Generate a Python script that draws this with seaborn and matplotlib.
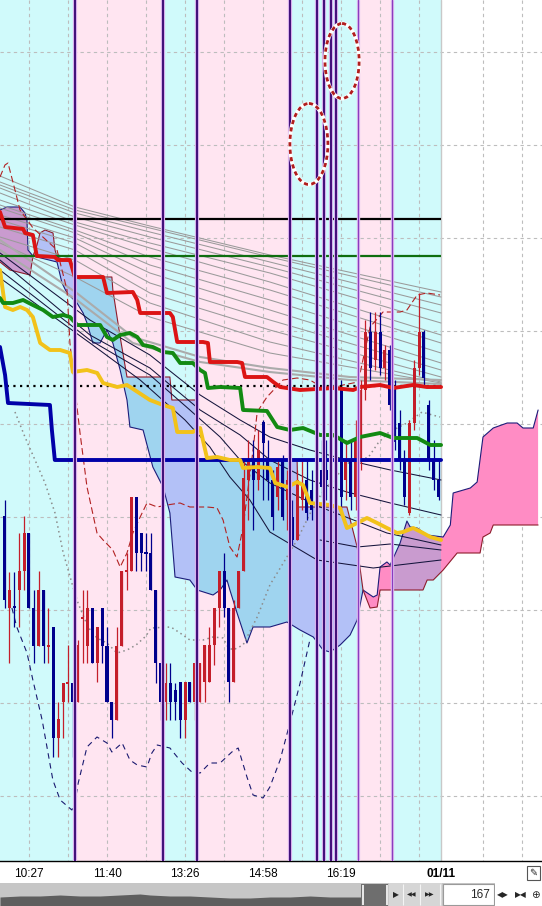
import numpy as np
import matplotlib
matplotlib.use("Agg")
import matplotlib.pyplot as plt
from matplotlib.patches import Rectangle, Ellipse
import seaborn as sns

sns.set_style("white")
plt.rcParams["font.family"] = ["Liberation Sans", "DejaVu Sans"]

# x = bar index, y = chart level counted downwards from the top of the pane

session_edges = [-1.0, 14.5, 32.5, 39.5, 58.5, 72.5, 79.5, 89.5, 111.0]
session_kinds = ["c", "p", "c", "p", "c", "p", "c", "w"]
signal_bars = [14.5, 32.5, 39.5, 58.5, 64.0, 65.5, 67.0, 68.0]
signal_bars_light = [72.5, 79.5]

tick_bars = [5, 13, 21, 29, 37, 45, 53, 61, 69, 77, 85, 98, 106]
label_bars = [5, 21, 37, 53, 69, 89.5]
label_text = ["10:27", "11:40", "13:26", "14:58", "16:19", "01/11"]
grid_levels = [52, 145, 238, 331, 424, 517, 610, 703, 796]

opens = [516, 608, 606, 590, 571, 533, 608, 646, 590, 647,
         627, 738, 702, 684, 683, 702, 619, 646, 608, 663,
         608, 646, 702, 720, 646, 572, 571, 497, 533, 552,
         553, 590, 663, 702, 683, 690, 682, 720, 682, 702,
         702, 682, 682, 645, 608, 571, 608, 682, 608, 571,
         480, 460, 480, 422, 460, 480, 497, 460, 500, 517,
         540, 500, 480, 490, 500, 470, 470, 460, 480, 390,
         480, 460, 497, 460, 390, 332, 360, 332, 368, 350,
         388, 423, 460, 513, 423, 368, 332, 405, 460, 480]
closes = [600, 590, 608, 571, 533, 608, 646, 590, 646, 645,
          738, 719, 683, 682, 702, 645, 617, 608, 663, 627,
          646, 702, 720, 646, 571, 570, 497, 553, 553, 554,
          590, 663, 702, 683, 702, 702, 720, 682, 702, 663,
          663, 645, 645, 608, 571, 608, 682, 608, 571, 478,
          460, 480, 450, 443, 480, 517, 467, 517, 480, 540,
          480, 485, 513, 510, 470, 487, 480, 480, 368, 497,
          460, 497, 440, 390, 332, 368, 332, 368, 350, 405,
          442, 460, 497, 423, 368, 332, 378, 460, 480, 497]
highs = [500, 572, 572, 533, 516, 533, 590, 571, 590, 608,
         627, 702, 683, 645, 683, 640, 590, 590, 608, 627,
         608, 627, 702, 627, 571, 553, 497, 497, 533, 533,
         533, 590, 663, 663, 663, 683, 682, 682, 682, 663,
         663, 645, 627, 608, 571, 553, 608, 600, 571, 460,
         440, 440, 430, 420, 440, 470, 460, 455, 470, 500,
         470, 460, 460, 470, 450, 440, 440, 430, 365, 380,
         440, 440, 420, 380, 320, 312, 312, 312, 345, 345,
         380, 410, 450, 420, 360, 293, 330, 400, 440, 460]
lows = [608, 663, 627, 627, 590, 608, 663, 646, 663, 663,
        757, 757, 738, 702, 757, 702, 663, 663, 663, 682,
        663, 702, 738, 720, 646, 590, 571, 571, 571, 571,
        590, 683, 720, 720, 720, 720, 738, 738, 702, 720,
        702, 702, 682, 665, 627, 617, 702, 682, 608, 571,
        520, 530, 490, 500, 500, 530, 510, 520, 530, 545,
        540, 510, 520, 520, 510, 497, 500, 500, 490, 510,
        500, 510, 510, 470, 400, 380, 370, 375, 380, 410,
        450, 470, 505, 515, 430, 375, 385, 470, 490, 500]

level_black = 219
level_green = 256
level_dotted = 386
data_end = 89.5

blue_x = [-0.94, 0.1, 0.7, 9.3, 9.7, 10.3, 89.5]
blue_y = [347, 375, 403, 405, 430, 460, 460]

red_x = [-0.94, 0.1, 3.8, 4.2, 5.8, 6.6, 10.3, 10.9, 13.4, 14.4, 20.2, 21.0, 26.3, 27.2, 27.8,
         33.9, 34.5, 35.4, 40.7, 41.7, 42.1, 47.7, 48.7, 49.3, 53.8, 55.1, 56.5, 60.6, 64.0,
         67.4, 71.5, 72.9, 77.0, 79.7, 83.8, 86.6, 89.5]
red_y = [212, 227, 229, 233, 235, 256, 257, 260, 260, 277, 277, 293, 292, 300, 313,
         313, 317, 342, 342, 343, 362, 362, 363, 377, 377, 382, 387, 390, 389,
         388, 390, 387, 385, 388, 385, 387, 387]

green_x = [-0.94, -0.3, 1.7, 3.8, 5.8, 7.9, 9.9, 12.0, 13.4, 14.9, 19.6, 21.0, 22.2, 23.7, 25.7,
           27.2, 28.4, 30.4, 32.5, 34.5, 36.0, 38.6, 40.1, 41.1, 41.7, 44.2, 48.3, 48.9, 53.8,
           55.9, 58.5, 61.2, 64.7, 67.4, 70.2, 72.9, 77.0, 79.7, 84.6, 87.3, 89.5]
green_y = [298, 303, 303, 300, 305, 310, 317, 315, 317, 325, 325, 337, 340, 335, 333,
           337, 345, 347, 352, 353, 363, 363, 370, 373, 388, 387, 388, 410, 411,
           427, 430, 428, 435, 435, 443, 437, 433, 438, 438, 445, 445]

yellow_x = [-0.94, 0.1, 1.7, 3.2, 4.6, 5.8, 7.3, 9.3, 11.4, 13.4, 14.0, 16.9, 19.0, 20.2, 23.1,
            25.1, 29.8, 32.5, 34.5, 35.4, 38.6, 40.1, 41.5, 43.6, 46.2, 48.3, 48.9, 51.8, 54.4,
            55.5, 58.0, 60.0, 61.2, 62.6, 66.7, 68.8, 70.2, 72.3, 74.3, 76.4, 78.4, 80.5, 81.7,
            83.8, 85.8, 87.3, 89.5]
yellow_y = [270, 307, 310, 307, 310, 317, 343, 350, 350, 353, 372, 370, 373, 383, 387,
            385, 400, 405, 408, 432, 432, 428, 458, 457, 460, 460, 468, 467, 468,
            483, 487, 482, 485, 503, 505, 508, 528, 523, 518, 523, 528, 533, 532,
            528, 533, 537, 540]

# slow averages (thin grey) read at five bars
avg_x = [-0.94, 14.44, 29.8, 54.4, 89.5]
avg_levels = [[176, 207, 226, 255, 292],
              [182, 210, 228, 257, 297],
              [185, 213, 232, 262, 305],
              [188, 217, 237, 267, 313],
              [193, 222, 243, 273, 323],
              [200, 225, 248, 282, 335],
              [205, 230, 257, 290, 343],
              [208, 233, 265, 300, 353],
              [215, 238, 273, 310, 363],
              [220, 243, 283, 320, 370],
              [227, 250, 293, 330, 377],
              [237, 260, 303, 342, 382],
              [243, 277, 317, 353, 383]]
band_x = [-0.94, 14.8, 26.3, 40.1, 54.4, 70.8, 89.5]
band_levels = [[240, 293, 337, 357, 368, 377, 380],
               [250, 300, 343, 362, 372, 380, 384]]

# faster averages (dark thin)
fast_lines = [
    ([-0.94, 17.5, 29.8, 40.1, 48.3, 54.4, 62.6, 70.2, 79.1, 89.5],
     [253, 320, 355, 395, 420, 437, 450, 460, 470, 480]),
    ([-0.94, 17.5, 29.8, 40.1, 48.3, 54.4, 62.6, 70.2, 79.1, 89.5],
     [260, 335, 368, 410, 435, 460, 480, 492, 503, 515]),
    ([-0.94, 17.5, 29.8, 38.0, 44.2, 48.3, 54.4, 64.7, 78.4, 89.5],
     [270, 340, 375, 410, 437, 460, 483, 507, 533, 545]),
    ([-0.94, 17.5, 27.8, 37.0, 42.1, 46.2, 50.3, 54.4, 64.1, 75.6, 89.5],
     [278, 343, 380, 420, 447, 477, 500, 532, 560, 568, 560]),
    ([64.7, 72.3, 79.1, 89.5], [540, 547, 544, 550]),
]

lag_x = [-0.94, 0.08, 0.7, 2.13, 3.16, 5.83, 10.75, 12.8, 13.4, 14.85, 15.47, 16.9, 18.95, 20.2,
         22.2, 23.7, 25.1, 26.3, 27.8, 29.2, 31.3, 33.3, 35.98, 38.0, 41.5, 43.57, 44.8, 46.2,
         47.67, 48.9, 50.95, 51.8, 53.8, 57.1, 59.98, 62.6, 66.1, 69.4, 72.5, 74.95, 77.6, 81.1,
         82.5, 84.6, 86.65, 89.3]
lag_y = [177, 165, 163, 190, 210, 228, 250, 290, 343, 407, 433, 487, 533, 540,
         550, 567, 553, 533, 517, 503, 507, 505, 503, 507, 507, 508, 520, 547,
         557, 527, 450, 412, 397, 380, 378, 380, 390, 385, 382, 327, 312, 312,
         310, 295, 293, 295]

low_x = [1.5, 2.5, 4.6, 5.8, 7.7, 9.9, 11.4, 13.8, 14.4, 15.1, 16.9, 18.95, 21.0, 22.0, 24.1,
         25.7, 27.2, 29.2, 30.2, 31.3, 33.9, 36.4, 38.4, 40.1, 42.1, 44.2, 46.6, 47.9, 49.7,
         50.95, 53.0, 54.4, 56.5, 58.5, 60.6, 62.6]
low_y = [608, 627, 653, 680, 720, 780, 800, 810, 803, 783, 747, 737, 743, 752, 743,
         760, 765, 767, 753, 745, 748, 763, 772, 773, 763, 763, 752, 748, 777,
         795, 798, 787, 760, 723, 683, 640]

sar_x = [2.13, 4.18, 6.24, 8.29, 10.34, 11.98, 14.03, 15.06, 17.1, 18.95, 21.0, 23.06, 25.1,
         26.96, 29.0, 30.0, 34.1, 35.98, 38.0, 40.7, 42.75, 44.8, 45.8, 46.85, 48.9, 51.8,
         54.4, 56.9, 59.98, 63.3, 65.1, 68.8, 71.5, 74.5, 76.6, 78.6, 80.5, 82.5, 85.6, 87.7, 89.3]
sar_y = [412, 437, 460, 483, 513, 552, 587, 603, 627, 638, 643, 653, 650,
         645, 636, 628, 627, 633, 640, 640, 637, 638, 647, 650, 645, 617,
         585, 565, 540, 507, 493, 472, 458, 458, 443, 433, 428, 423, 412, 415, 417]

# cloud: span A (navy) and span B (dark red), split where they cross
left_a_x = [-0.94, 0.49, 3.16, 4.18, 4.59, 4.8, 5.83]
left_a_y = [210, 207, 207, 213, 220, 250, 256]
left_b_x = [-0.94, 1.11, 5.21, 5.83]
left_b_y = [262, 270, 275, 256]

mid_b_x = [5.83, 6.65, 7.26, 8.29, 9.93, 10.34, 10.75, 13.4, 14.44, 22.0, 22.2, 23.7, 25.1,
           33.9, 34.3, 39.5, 39.7, 59.98, 60.2, 70.2, 72.3, 73.5]
mid_b_y = [256, 245, 233, 230, 233, 250, 257, 262, 277, 277, 290, 337, 377,
           377, 400, 400, 460, 460, 507, 507, 547, 590]
mid_a_x = [5.83, 10.75, 11.77, 12.8, 14.85, 16.1, 16.9, 18.1, 19.57, 21.0, 22.2, 23.7, 25.1,
           25.7, 28.4, 30.4, 32.5, 33.9, 34.95, 38.0, 39.5, 42.75, 44.2, 45.6, 46.2, 47.67,
           49.7, 50.95, 54.4, 57.9, 60.6, 63.3, 65.3, 66.75, 68.8, 70.85, 72.3, 73.5]
mid_a_y = [256, 262, 283, 293, 303, 313, 323, 343, 343, 330, 343, 370, 400,
           427, 430, 467, 487, 513, 577, 580, 590, 595, 590, 580, 590, 613,
           643, 627, 627, 622, 630, 637, 650, 652, 645, 635, 620, 590]

right_a_x = [73.5, 75.6, 76.4, 77.0, 78.4, 79.06, 81.1, 82.5, 83.16, 84.6, 86.65, 89.93, 91.4,
             91.98, 95.5, 96.9, 98.1, 100.2, 103.06, 105.1, 106.3, 108.4, 109.4]
right_a_y = [590, 597, 595, 567, 562, 565, 543, 521, 527, 528, 535, 537, 525,
             493, 488, 482, 437, 428, 423, 423, 428, 428, 410]
right_b_x = [73.5, 74.95, 76.4, 77.0, 85.8, 86.65, 87.9, 89.93, 92.8, 97.5, 98.1, 99.57,
             100.2, 109.4]
right_b_y = [590, 608, 607, 590, 590, 580, 580, 570, 553, 553, 537, 533, 525, 525]

ring_x = [62.4, 69.2]
ring_y = [144, 61]
ring_w = [7.8, 7.0]
ring_h = [81, 75]

overview_x = [0, 20, 40, 60, 80, 100, 120, 140, 150, 170, 190, 210, 230, 250, 270, 290, 310, 330, 361]
overview_top = [14, 13, 13, 12, 13, 13, 12, 11, 12, 13, 13, 14, 15, 15, 14, 14, 13, 14, 14]

session_fill = {"c": "#D0FAFB", "p": "#FFE5F1", "w": "#FFFFFF"}
bull_shade = {"c": "#B3C1F7", "p": "#9FD4EF", "w": "#9FD4EF"}
bear_shade = {"c": "#C99BCF", "p": "#FF8CC4", "w": "#FF8CC4"}

fig = plt.figure(figsize=(5.42, 9.06), dpi=100)
ax = fig.add_axes([0, 45 / 906, 1, 861 / 906])
ax.set_facecolor("white")

for x0, x1, kind in zip(session_edges[:-1], session_edges[1:], session_kinds):
    ax.axvspan(x0, x1, color=session_fill[kind], lw=0, zorder=0)

ax.vlines(tick_bars, 0, 861, colors="#BDBDBD", lw=0.8, linestyles=(0, (3, 3)), zorder=1)
ax.hlines(grid_levels, -1, 111, colors="#BDBDBD", lw=0.8, linestyles=(0, (3, 3)), zorder=1)
ax.axvline(data_end, color="#C8C8C8", lw=1.0, zorder=1)


def shade(top_x, top_y, bot_x, bot_y, palette):
    px = list(top_x) + list(bot_x)[::-1]
    py = list(top_y) + list(bot_y)[::-1]
    for x0, x1, kind in zip(session_edges[:-1], session_edges[1:], session_kinds):
        poly = ax.fill(px, py, color=palette[kind], lw=0, zorder=2)[0]
        poly.set_clip_path(Rectangle((x0, -50), x1 - x0, 1000, transform=ax.transData))


shade(left_a_x, left_a_y, left_b_x, left_b_y, bear_shade)
shade(mid_b_x, mid_b_y, mid_a_x, mid_a_y, bull_shade)
shade(right_a_x, right_a_y, right_b_x, right_b_y, bear_shade)


def trace(xs, ys, colour, width, style="-", z=4):
    sns.lineplot(x=xs, y=ys, sort=False, estimator=None, ax=ax, color=colour,
                 linewidth=width, linestyle=style, zorder=z)


span_a_x = left_a_x + mid_a_x[1:] + right_a_x[1:]
span_a_y = left_a_y + mid_a_y[1:] + right_a_y[1:]
span_b_x = left_b_x + mid_b_x[1:] + right_b_x[1:]
span_b_y = left_b_y + mid_b_y[1:] + right_b_y[1:]
trace(span_a_x, span_a_y, "#1C1C7A", 0.8, z=3)
trace(span_b_x, span_b_y, "#8E1C2C", 0.8, z=3)

for lv in avg_levels:
    trace(avg_x, lv, "#9A9A9A", 0.75, z=3)
for lv in band_levels:
    trace(band_x, lv, "#ABABAB", 1.5, z=3)
for xs, ys in fast_lines:
    trace(xs, ys, "#14143C", 0.75, z=3)

trace(sar_x, sar_y, "#8C8C8C", 1.1, style=(0, (1, 2.2)), z=3)
trace(low_x, low_y, "#1A1A70", 0.8, style=(0, (5, 4)), z=3)
trace(lag_x, lag_y, "#B22222", 0.8, style=(0, (6, 3)), z=3)

bars = np.arange(len(opens))
o = np.array(opens, dtype=float)
c = np.array(closes, dtype=float)
rising = c < o
colours = np.where(rising, "#C41E2A", "#00008C")
ax.vlines(bars, highs, lows, colors=colours, lw=0.9, zorder=5)
body = np.where(np.abs(c - o) < 2, np.where(rising, -2.0, 2.0), c - o)
ax.bar(bars, body, bottom=o, width=0.62, color=colours, lw=0, zorder=6)

ax.hlines(level_black, -1, data_end, colors="black", lw=1.6, zorder=7)
ax.hlines(level_green, -1, data_end, colors="#0F6E0F", lw=1.6, zorder=7)
ax.hlines(level_dotted, -1, data_end, colors="black", lw=1.6, linestyles=(0, (1, 2)), zorder=7)

trace(blue_x, blue_y, "#0000A8", 2.8, z=8)
trace(yellow_x, yellow_y, "#F2C21A", 2.8, z=8)
trace(green_x, green_y, "#128A12", 2.8, z=8)
trace(red_x, red_y, "#DC1414", 2.8, z=8)

for b in signal_bars:
    ax.axvline(b, color="#D8B0EC", lw=3.0, zorder=11)
    ax.axvline(b, color="#3E0E78", lw=1.4, zorder=12)
for b in signal_bars_light:
    ax.axvline(b, color="#E6C8F2", lw=2.4, zorder=11)
    ax.axvline(b, color="#8A3CC0", lw=1.0, zorder=12)

for cx, cy, w, h in zip(ring_x, ring_y, ring_w, ring_h):
    ax.add_patch(Ellipse((cx, cy), w, h, fill=False, ec="white", lw=2.8, zorder=13))
    ax.add_patch(Ellipse((cx, cy), w, h, fill=False, ec="#B01E1E", lw=2.0,
                         ls=(0, (1.5, 1.2)), zorder=14))

ax.set_xlim(-0.94, 110.2)
ax.set_ylim(861, 0)
ax.set_xlabel("")
ax.set_ylabel("")
ax.set_yticks([])
ax.set_xticks(tick_bars, minor=True)
ax.set_xticks(label_bars)
ax.set_xticklabels(label_text)
ax.get_xticklabels()[-1].set_fontweight("bold")
ax.tick_params(axis="x", which="both", direction="out", length=3.5, width=0.8, pad=1.5,
               labelsize=8.5, colors="black")
for side in ["top", "left", "right"]:
    ax.spines[side].set_visible(False)
ax.spines["bottom"].set_color("black")
ax.spines["bottom"].set_linewidth(1.0)

# window chrome under the time axis (screen pixels)
cax = fig.add_axes([0, 0, 1, 45 / 906])
cax.set_xlim(0, 542)
cax.set_ylim(906, 861)
cax.axis("off")
cax.add_patch(Rectangle((0, 883), 542, 23, color="#C6C6C6", lw=0))
cax.fill_between(overview_x, [883 + t for t in overview_top], 906, color="#5E5E5E", lw=0)
cax.add_patch(Rectangle((361, 884), 27, 22, color="#6E6E6E", lw=0))
cax.vlines([362.5, 386.5], 885, 905, colors="white", lw=1.2)
cax.add_patch(Rectangle((389, 883), 53, 23, color="#D6D6D6", lw=0))
cax.vlines([403, 420, 440], 884, 905, colors="#F4F4F4", lw=0.8)
cax.text(396, 895, "\u25B6", fontsize=5.5, ha="center", va="center", family="DejaVu Sans")
cax.text(411.5, 895, "\u25C0\u25C0", fontsize=4.5, ha="center", va="center", family="DejaVu Sans")
cax.text(430, 895, "\u25B6\u25B6", fontsize=4.5, ha="center", va="center", family="DejaVu Sans")
cax.add_patch(Rectangle((443, 884), 51, 21, fc="white", ec="#9A9A9A", lw=0.8))
cax.text(490, 895, "167", fontsize=8.5, ha="right", va="center")
cax.add_patch(Rectangle((495, 883), 47, 23, color="white", lw=0))
cax.text(503, 895, "\u25C0\u25B6", fontsize=5.5, ha="center", va="center", family="DejaVu Sans")
cax.text(521, 895, "\u25B6\u25C0", fontsize=5.5, ha="center", va="center", family="DejaVu Sans")
cax.text(535.5, 895, "\u2295", fontsize=7.5, ha="center", va="center", family="DejaVu Sans")
cax.add_patch(Rectangle((527, 866), 13, 14, fc="white", ec="#555555", lw=0.8))
cax.text(533.5, 873, "\u270E", fontsize=7, ha="center", va="center", family="DejaVu Sans")

fig.savefig("out.png", dpi=100)
